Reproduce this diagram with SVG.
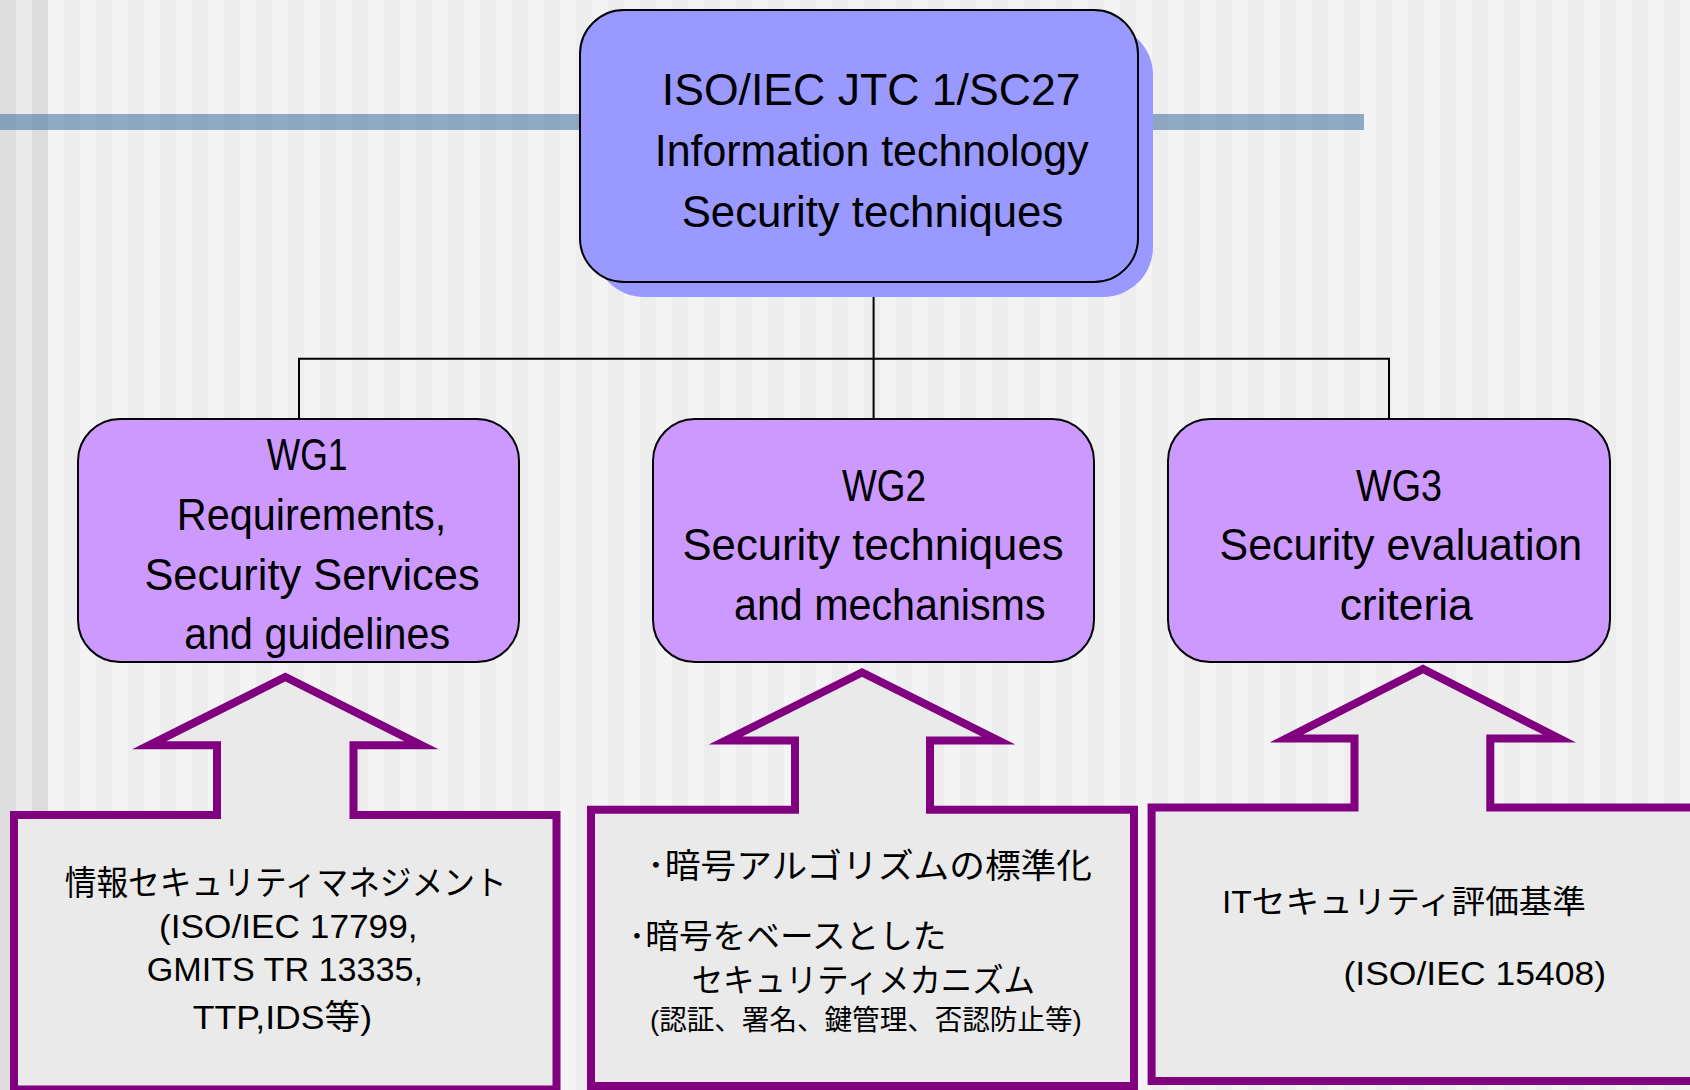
<svg xmlns="http://www.w3.org/2000/svg" width="1690" height="1090" viewBox="0 0 1690 1090">
  <defs>
    <pattern id="stripes" x="0" y="0" width="32" height="10" patternUnits="userSpaceOnUse">
      <rect width="32" height="10" fill="#F4F4F4"/>
      <rect width="16" height="10" fill="#EDEDED"/>
    </pattern>
    <style>
      .t { font-family: "Liberation Sans", "Noto Sans CJK JP", Arial, sans-serif; fill: #000; }
      .big { font-size: 45px; }
      .mid { font-size: 34px; }
      .wg { fill: #CC99FF; stroke: #000; stroke-width: 2; }
      .top { fill: #9999FF; stroke: #000; stroke-width: 2; }
      .arrowbox { fill: #EAEAEA; stroke: #800080; stroke-width: 8; stroke-miterlimit: 10; }
      .conn { fill: none; stroke: #000; stroke-width: 2; }
    </style>
  </defs>

  <!-- background -->
  <rect x="0" y="0" width="1690" height="1090" fill="url(#stripes)"/>
  <rect x="0" y="0" width="16" height="1090" fill="#DEDEDE"/>
  <rect x="16" y="0" width="16" height="1090" fill="#EAEAEA"/>
  <rect x="32" y="0" width="16" height="1090" fill="#DCDCDC"/>
  <rect x="0" y="114" width="1364" height="16" fill="#4C77A3" fill-opacity="0.6"/>

  <!-- connectors -->
  <g id="connectors">
    <path class="conn" d="M873.6,282 V419"/>
    <path class="conn" d="M299,419 V358.7 H1389 V419"/>
  </g>

  <!-- top node -->
  <g id="node-sc27">
    <rect x="594" y="25" width="559" height="272" rx="50" fill="#9999FF"/>
    <rect class="top" x="580" y="10" width="558" height="272" rx="44"/>
    <text class="t big" x="661.8" y="105" textLength="418.7" lengthAdjust="spacingAndGlyphs">ISO/IEC JTC 1/SC27</text>
    <text class="t big" x="654.8" y="166" textLength="433.8" lengthAdjust="spacingAndGlyphs">Information technology</text>
    <text class="t big" x="681.7" y="226.6" textLength="381.6" lengthAdjust="spacingAndGlyphs">Security techniques</text>
  </g>

  <!-- WG1 -->
  <g id="node-wg1">
    <rect class="wg" x="78" y="419" width="441" height="243" rx="42"/>
    <text class="t big" x="266.8" y="470" textLength="80.8" lengthAdjust="spacingAndGlyphs">WG1</text>
    <text class="t big" x="176.8" y="530" textLength="269.4" lengthAdjust="spacingAndGlyphs">Requirements,</text>
    <text class="t big" x="144.4" y="590" textLength="335.2" lengthAdjust="spacingAndGlyphs">Security Services</text>
    <text class="t big" x="184.3" y="649.3" textLength="265.7" lengthAdjust="spacingAndGlyphs">and guidelines</text>
  </g>

  <!-- WG2 -->
  <g id="node-wg2">
    <rect class="wg" x="653" y="419" width="441" height="243" rx="42"/>
    <text class="t big" x="842" y="500.5" textLength="84" lengthAdjust="spacingAndGlyphs">WG2</text>
    <text class="t big" x="682.5" y="560.3" textLength="381" lengthAdjust="spacingAndGlyphs">Security techniques</text>
    <text class="t big" x="734" y="619.7" textLength="311.5" lengthAdjust="spacingAndGlyphs">and mechanisms</text>
  </g>

  <!-- WG3 -->
  <g id="node-wg3">
    <rect class="wg" x="1168" y="419" width="442" height="243" rx="42"/>
    <text class="t big" x="1356" y="500.5" textLength="86" lengthAdjust="spacingAndGlyphs">WG3</text>
    <text class="t big" x="1219.5" y="560.3" textLength="362.7" lengthAdjust="spacingAndGlyphs">Security evaluation</text>
    <text class="t big" x="1339.7" y="619.7" textLength="133" lengthAdjust="spacingAndGlyphs">criteria</text>
  </g>

  <!-- WG1 input -->
  <g id="node-input1">
    <path class="arrowbox" d="M14,1089.5 V815 H217 V745.3 H149 L285.3,677 L421.6,745.3 H353.5 V815 H556.5 V1089.5 Z"/>
    <text class="t mid" x="64.7" y="895" textLength="442" lengthAdjust="spacingAndGlyphs">情報セキュリティマネジメント</text>
    <text class="t mid" x="159" y="937.5" textLength="258.6" lengthAdjust="spacingAndGlyphs">(ISO/IEC 17799,</text>
    <text class="t mid" x="146.7" y="980.7" textLength="276.3" lengthAdjust="spacingAndGlyphs">GMITS TR 13335,</text>
    <text class="t mid" x="192.7" y="1029" textLength="179.3" lengthAdjust="spacingAndGlyphs">TTP,IDS等)</text>
  </g>

  <!-- WG2 input -->
  <g id="node-input2">
    <path class="arrowbox" d="M591,1086 V809.7 H795 V740.5 H725.6 L862,672.5 L998.4,740.5 H930 V809.7 H1134 V1086 Z"/>
    <text class="t" font-size="34" x="647" y="878" textLength="445" lengthAdjust="spacingAndGlyphs">･暗号アルゴリズムの標準化</text>
    <text class="t" font-size="33" x="628.5" y="948" textLength="318" lengthAdjust="spacingAndGlyphs">･暗号をベースとした</text>
    <text class="t" font-size="33" x="691.7" y="992" textLength="343.3" lengthAdjust="spacingAndGlyphs">セキュリティメカニズム</text>
    <text class="t" font-size="28" x="650" y="1030" textLength="431.7" lengthAdjust="spacingAndGlyphs">(認証、署名、鍵管理、否認防止等)</text>
  </g>

  <!-- WG3 input -->
  <g id="node-input3">
    <path class="arrowbox" d="M1151.6,1081 V807.5 H1354.5 V738.4 H1286.6 L1423,669 L1559.4,738.4 H1490.3 V807.5 H1700 V1081 Z"/>
    <text class="t" font-size="32" x="1222" y="913" textLength="364" lengthAdjust="spacingAndGlyphs">ITセキュリティ評価基準</text>
    <text class="t mid" x="1343.5" y="985" textLength="262.5" lengthAdjust="spacingAndGlyphs">(ISO/IEC 15408)</text>
  </g>
</svg>
